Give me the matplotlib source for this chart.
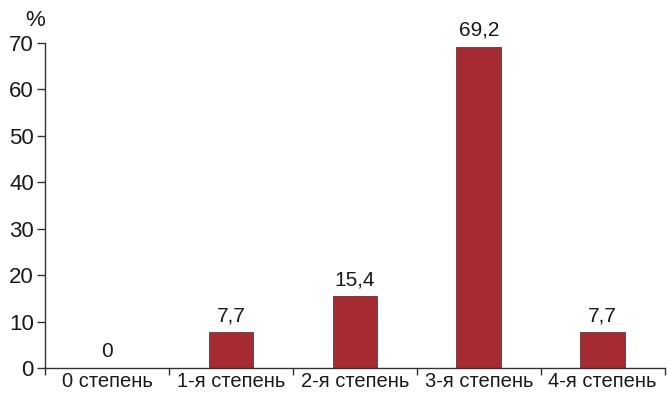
import matplotlib
matplotlib.use("Agg")
import matplotlib.pyplot as plt
import numpy as np

plt.rcParams['font.family'] = ['Liberation Sans', 'DejaVu Sans']

categories = ["0 степень", "1-я степень", "2-я степень", "3-я степень", "4-я степень"]
values = [0, 7.7, 15.4, 69.2, 7.7]
value_labels = ["0", "7,7", "15,4", "69,2", "7,7"]
yticks = [0, 10, 20, 30, 40, 50, 60, 70]

fig = plt.figure(figsize=(6.67, 3.94), dpi=100)
ax = fig.add_axes([0.0675, 0.066, 0.929, 0.825])

x = np.arange(len(categories))
ax.bar(x, values, width=0.36, color="#a52a31", edgecolor="#5a3a3a", linewidth=0.6, zorder=2)

for xi, v, lab in zip(x, values, value_labels):
    ax.text(xi, v + 1.5, lab, ha="center", va="bottom", fontsize=15, color="#1a1a1a")

ax.set_xlim(-0.5, len(categories) - 0.5)
ax.set_ylim(0, 70)
ax.set_yticks(yticks)
ax.set_yticklabels([str(t) for t in yticks], fontsize=16, color="#1a1a1a")

# category boundaries carry the tick marks, names sit in the middle
ax.set_xticks(np.arange(-0.5, len(categories)), minor=False)
ax.set_xticklabels([""] * (len(categories) + 1))
ax.set_xticks(x, minor=True)
ax.set_xticklabels(categories, minor=True, fontsize=14.5, color="#1a1a1a")
ax.tick_params(axis="x", which="minor", length=0, pad=3)
ax.tick_params(axis="x", which="major", length=5, width=1, color="#333333")
ax.tick_params(axis="y", length=6, width=1, color="#333333", pad=2)

for s in ["top", "right"]:
    ax.spines[s].set_visible(False)
for s in ["left", "bottom"]:
    ax.spines[s].set_color("#333333")
    ax.spines[s].set_linewidth(1)

fig.text(35 / 667, 1 - 20 / 394, "%", ha="center", va="center", fontsize=16, color="#1a1a1a")

fig.savefig("out.png", dpi=100)
